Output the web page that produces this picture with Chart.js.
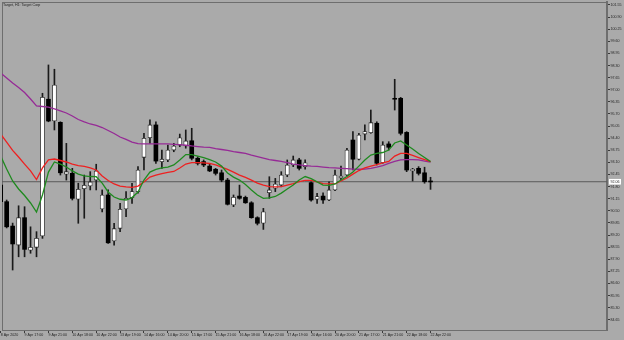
<!DOCTYPE html>
<html><head><meta charset="utf-8">
<script src="https://cdn.jsdelivr.net/npm/chart.js@4/dist/chart.umd.min.js"></script>
<style>html,body{margin:0;padding:0;background:#aaaaaa;}canvas{display:block;}</style>
</head><body>
<canvas id="c" width="624" height="340"></canvas>
<script>
const chartTitle = 'Target, H1: Target Corp';

const opens  = [91.88,90.99,89.68,88.66,90.13,88.39,88.54,89.15,96.49,95.32,
                95.25,92.46,92.51,91.12,91.69,91.83,92.15,90.60,91.35,88.88,
                89.56,90.60,91.20,91.53,93.37,94.42,95.11,93.14,93.23,93.76,
                94.03,93.98,94.26,93.32,93.14,92.90,92.73,92.54,92.15,90.81,
                91.29,91.22,90.93,90.13,89.83,91.47,91.71,91.88,92.42,92.96,
                93.23,92.87,92.01,91.12,91.29,91.08,91.62,92.26,92.42,94.30,
                93.27,94.62,94.69,95.20,93.08,94.09,96.54,96.54,94.71,92.64,
                92.78,92.54,92.10];
const highs  = [91.99,91.08,89.84,90.77,90.72,89.64,89.38,96.81,98.33,98.10,
                95.28,94.12,92.78,91.98,92.42,92.60,93.00,91.62,91.62,89.83,
                90.90,91.53,91.98,92.87,94.66,95.38,95.28,93.76,94.03,94.12,
                94.62,94.84,94.93,93.40,93.23,93.05,92.78,92.69,92.24,91.35,
                91.88,91.29,90.99,90.18,90.63,92.33,92.24,92.60,93.23,93.44,
                93.32,93.23,92.06,91.44,91.47,92.06,92.69,92.90,93.86,94.75,
                94.66,95.11,95.91,95.28,94.21,94.21,97.56,96.59,94.75,92.78,
                92.87,92.84,92.30];
const lows   = [90.92,89.58,87.32,88.03,88.03,88.22,88.03,89.02,95.28,94.84,
                92.42,92.15,91.08,89.83,90.10,91.62,91.62,90.44,88.75,88.66,
                89.38,90.18,90.90,91.44,92.69,94.12,93.05,92.78,93.14,93.67,
                93.94,93.86,93.23,92.96,92.87,92.60,92.42,92.06,90.81,90.72,
                91.12,90.90,90.10,89.74,89.50,91.17,91.53,91.79,92.33,92.87,
                92.69,92.73,91.02,90.90,90.90,91.04,91.58,92.15,92.37,92.69,
                93.23,94.30,94.66,92.96,93.05,93.76,95.91,94.57,92.60,92.10,
                92.42,91.98,91.65];
const closes = [90.99,89.64,88.72,90.13,88.43,88.54,89.02,96.59,95.32,97.25,
                92.54,92.60,91.17,91.65,91.87,92.05,92.64,91.35,88.78,89.54,
                90.58,91.17,91.53,92.69,94.39,95.11,93.17,93.27,93.76,93.98,
                94.42,94.25,93.32,93.05,92.96,92.64,92.51,92.15,90.85,91.22,
                91.17,90.93,90.13,89.83,90.45,91.62,91.94,92.42,92.96,93.23,
                92.78,93.08,91.08,91.26,91.08,91.62,92.42,92.37,93.76,93.27,
                94.57,94.75,95.23,93.05,94.03,93.91,96.49,94.66,92.69,92.74,
                92.51,92.06,92.05];

const maSlow = [97.90,97.63,97.36,97.12,96.85,96.50,96.13,96.10,96.07,95.97,
                95.86,95.75,95.59,95.40,95.27,95.16,95.08,94.97,94.81,94.65,
                94.46,94.33,94.19,94.11,94.09,94.09,94.09,94.09,94.09,94.07,
                94.05,94.02,93.98,93.95,93.92,93.90,93.84,93.79,93.74,93.68,
                93.63,93.58,93.49,93.41,93.33,93.25,93.20,93.15,93.09,93.01,
                92.96,92.93,92.90,92.88,92.85,92.82,92.80,92.78,92.76,92.74,
                92.73,92.74,92.78,92.85,92.93,93.04,93.15,93.23,93.25,93.25,
                93.23,93.17,93.12];
const maMid  = [94.62,94.19,93.74,93.39,93.01,92.64,92.18,92.80,93.23,93.28,
                93.20,93.12,93.01,92.93,92.88,92.80,92.69,92.37,92.13,91.94,
                91.83,91.78,91.76,91.83,92.05,92.31,92.42,92.50,92.56,92.61,
                92.80,93.01,93.09,93.09,93.07,93.04,92.96,92.85,92.72,92.58,
                92.42,92.29,92.15,91.99,91.88,91.80,91.78,91.80,91.88,91.96,
                92.07,92.13,92.13,92.05,91.96,91.94,91.94,92.10,92.26,92.47,
                92.66,92.80,92.90,92.98,93.07,93.15,93.44,93.58,93.58,93.47,
                93.36,93.25,93.14];
const maFast = [93.44,92.74,92.10,91.67,91.32,90.92,90.43,91.35,92.58,93.12,
                93.01,92.85,92.64,92.47,92.37,92.34,92.33,91.99,91.51,91.24,
                91.12,91.08,91.21,91.51,92.15,92.58,92.72,92.80,92.85,92.96,
                93.23,93.52,93.52,93.44,93.36,93.25,93.12,92.90,92.53,92.31,
                92.15,91.91,91.62,91.35,91.17,91.19,91.27,91.45,91.67,91.88,
                92.15,92.34,92.23,92.05,91.88,91.86,91.94,92.15,92.34,92.58,
                92.90,93.23,93.49,93.58,93.63,93.76,94.14,94.25,94.03,93.82,
                93.58,93.36,93.14];

const bidPrice = 92.06;

const xTickLabels = ['8 Apr 2020','9 Apr 17:00','9 Apr 21:00','10 Apr 18:00','10 Apr 22:00',
  '13 Apr 19:00','14 Apr 16:00','14 Apr 20:00','15 Apr 17:00','15 Apr 21:00','16 Apr 18:00',
  '16 Apr 22:00','17 Apr 19:00','20 Apr 16:00','20 Apr 20:00','21 Apr 17:00','21 Apr 21:00',
  '22 Apr 18:00','22 Apr 22:00'];
const xTickStep = 4;

const yTickValues = [101.55,100.90,100.25,99.60,98.95,98.30,97.65,97.00,96.35,95.70,95.05,
  94.40,93.75,93.10,92.45,91.80,91.15,90.50,89.85,89.20,88.55,87.90,87.25,86.60,85.95,85.30,84.65];

const X_MIN = 0.22, X_MAX = 101.56, Y_MIN = 84.10, Y_MAX = 101.71;
const FONT = '"Liberation Sans", Arial, sans-serif';
const FS = 3.6;

const idx = opens.map((_, i) => i);
const isUp = i => closes[i] >= opens[i];

const framePlugin = {
  id: 'frame',
  beforeDatasetsDraw(chart) {
    const {ctx, chartArea: a} = chart;
    ctx.save();
    ctx.strokeStyle = '#6e6e6e';
    ctx.lineWidth = 1;
    ctx.strokeRect(a.left + 0.5, a.top + 0.5, a.right - a.left - 1, a.bottom - a.top);
    ctx.restore();
  },
  afterDraw(chart) {
    const {ctx} = chart;
    ctx.save();
    ctx.fillStyle = '#1e1e1e';
    ctx.font = FS + 'px ' + FONT;
    ctx.textBaseline = 'middle';
    ctx.textAlign = 'left';
    ctx.fillText(chartTitle, 3, 5);
    const y = chart.scales.y.getPixelForValue(bidPrice);
    ctx.fillStyle = '#ffffff';
    ctx.fillRect(609, y - 2.8, 12, 5.6);
    ctx.fillStyle = '#222';
    ctx.fillText(bidPrice.toFixed(2), 610.5, y);
    ctx.restore();
  }
};

new Chart(document.getElementById('c'), {
  type: 'bar',
  data: {
    datasets: [
      {type: 'line', label: 'MA fast', data: idx.map(i => ({x: i, y: maFast[i]})),
       borderColor: '#1f8a1f', borderWidth: 1.3, pointRadius: 0, tension: 0, order: 0},
      {type: 'line', label: 'MA mid', data: idx.map(i => ({x: i, y: maMid[i]})),
       borderColor: '#ee2020', borderWidth: 1.3, pointRadius: 0, tension: 0, order: 1},
      {type: 'line', label: 'MA slow', data: idx.map(i => ({x: i, y: maSlow[i]})),
       borderColor: '#962a96', borderWidth: 1.3, pointRadius: 0, tension: 0, order: 2},
      {label: 'bodies', data: idx.map(i => ({x: i, y: [opens[i], closes[i]]})),
       backgroundColor: idx.map(i => isUp(i) ? '#ffffff' : '#000000'),
       borderColor: '#2a2a2a', borderWidth: idx.map(i => isUp(i) ? 0.8 : 0),
       borderSkipped: false, barThickness: 4, grouped: false, order: 3},
      {label: 'wicks', data: idx.map(i => ({x: i, y: [lows[i], highs[i]]})),
       backgroundColor: '#1a1a1a', borderWidth: 0, barThickness: 1, grouped: false, order: 4},
      {type: 'line', label: 'bid', data: [{x: X_MIN, y: bidPrice}, {x: X_MAX, y: bidPrice}],
       borderColor: '#5a5a5a', borderWidth: 1, pointRadius: 0, order: 5}
    ]
  },
  options: {
    responsive: false,
    animation: false,
    layout: {padding: {left: 2, top: 2, right: 0, bottom: 0}},
    plugins: {legend: {display: false}, tooltip: {enabled: false}},
    scales: {
      x: {
        type: 'linear', min: X_MIN, max: X_MAX, offset: false,
        grid: {display: true, drawOnChartArea: false, offset: false, tickLength: 3, color: '#3a3a3a', lineWidth: 1},
        border: {display: true, color: '#6e6e6e', width: 1},
        ticks: {autoSkip: false, maxRotation: 0, minRotation: 0, align: 'start', padding: 0,
                color: '#1e1e1e', font: {family: FONT, size: FS},
                callback: (v, i) => xTickLabels[i]},
        afterBuildTicks: s => { s.ticks = xTickLabels.map((_, k) => ({value: k * xTickStep})); },
        afterFit: s => { s.height = 10; s.paddingLeft = 0; s.paddingRight = 0; }
      },
      y: {
        type: 'linear', position: 'right', min: Y_MIN, max: Y_MAX, beginAtZero: false,
        grid: {display: true, drawOnChartArea: false, tickLength: 3, color: '#3a3a3a', lineWidth: 1},
        border: {display: true, color: '#6e6e6e', width: 2},
        ticks: {autoSkip: false, padding: 0.5, color: '#1e1e1e', font: {family: FONT, size: FS},
                callback: v => Number(v).toFixed(2)},
        afterBuildTicks: s => { s.ticks = yTickValues.map(v => ({value: v})); },
        afterFit: s => { s.width = 17; s.paddingTop = 0; s.paddingBottom = 0; }
      }
    }
  },
  plugins: [framePlugin]
});
</script>
</body></html>
